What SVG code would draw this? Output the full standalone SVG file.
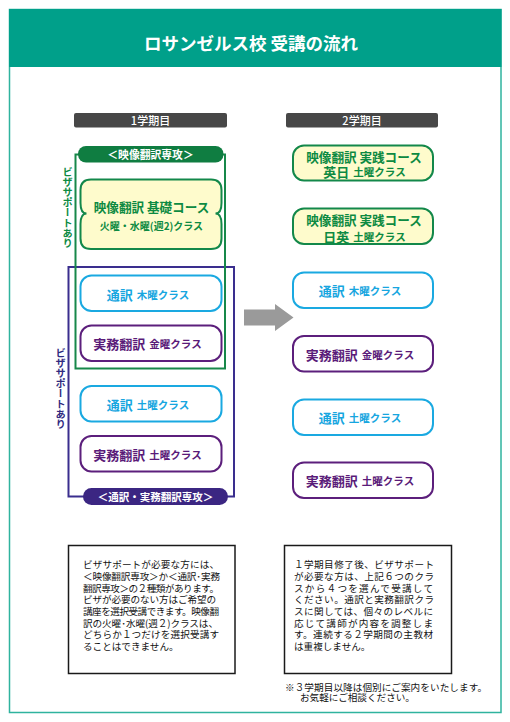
<svg xmlns="http://www.w3.org/2000/svg" width="510" height="722" viewBox="0 0 510 722">
<style>
text{font-family:"Noto Sans CJK JP","Noto Sans",sans-serif;dominant-baseline:central}
.b{font-weight:bold}
.mid{text-anchor:middle}
.grn{fill:#0d8a42}
.cyn{fill:#17a6df}
.pur{fill:#5a1b79}
.wt{fill:#ffffff}
.gnode{fill:#fefbcc;stroke:#13884a;stroke-width:2}
.cnode{fill:#ffffff;stroke:#1aa9e1;stroke-width:2}
.pnode{fill:#ffffff;stroke:#5c1f7c;stroke-width:2}
.big{font-size:13px;font-weight:bold}
.sm{font-size:10.5px;font-weight:bold}
.note{font-size:9.6px;fill:#111}
.lbl{fill:#474747}
.vt{writing-mode:vertical-rl;font-size:10.2px;font-weight:bold;dominant-baseline:central}
</style>

<g id="frame">
  <rect x="9.5" y="9.5" width="491.5" height="703" fill="#ffffff" stroke="#2fb39e" stroke-width="1.5"/>
  <rect x="9" y="9" width="492.5" height="58" fill="#00a08a"/>
  <text x="251" y="42.5" class="mid wt b" style="font-size:17.5px">ロサンゼルス校 受講の流れ</text>
</g>

<g id="term1">
  <rect x="74" y="113" width="153" height="14.5" rx="2" class="lbl"/>
  <text x="150.5" y="120.3" class="mid wt" style="font-size:11px;font-weight:500">1学期目</text>
</g>
<g id="term2">
  <rect x="286" y="113" width="152" height="14.5" rx="2" class="lbl"/>
  <text x="362" y="120.3" class="mid wt" style="font-size:11px;font-weight:500">2学期目</text>
</g>

<g id="group-interp">
  <path d="M85 496.5 H68.5 V267 H234 V496.5 H226" fill="none" stroke="#3a2e8e" stroke-width="2"/>
  <rect x="83" y="488" width="145" height="17" rx="8.5" fill="#3b2682"/>
  <text x="155.5" y="496.8" class="mid wt b" style="font-size:10.5px">＜通訳・実務翻訳専攻＞</text>
  <text x="60.5" y="388.5" class="vt mid" fill="#2f2a80" text-anchor="middle">ビザサポートあり</text>
</g>

<g id="group-film">
  <path d="M79 154.5 H75.5 V368.5 H225 V154.5 H222" fill="none" stroke="#17884a" stroke-width="2"/>
  <rect x="78" y="146" width="145.5" height="16.5" rx="8" fill="#0f7d41"/>
  <text x="150.5" y="154.3" class="mid wt b" style="font-size:10.8px">＜映像翻訳専攻＞</text>
  <text x="67.5" y="207.5" class="vt grn" text-anchor="middle">ビザサポートあり</text>
</g>

<g id="node-kiso">
  <path class="gnode" d="M91 179.5 H211 Q221.5 179.5 221.5 190 V203 Q221.5 213.5 215.5 213.5 Q221.5 213.5 221.5 224 V238.5 Q221.5 249 211 249 H91 Q80.5 249 80.5 238.5 V224 Q80.5 213.5 86.5 213.5 Q80.5 213.5 80.5 203 V190 Q80.5 179.5 91 179.5 Z"/>
  <text x="151.5" y="206" class="mid grn b" style="font-size:12.6px">映像翻訳 基礎コース</text>
  <text x="151.5" y="225.5" class="mid grn b" style="font-size:10px">火曜・水曜(週2)クラス</text>
</g>

<g id="node-l-tsuyaku-thu">
  <rect x="80.5" y="275.5" width="141" height="35.5" rx="11" class="cnode"/>
  <text x="148" y="293.5" class="mid cyn"><tspan class="big">通訳</tspan><tspan class="sm" dx="4">木曜クラス</tspan></text>
</g>
<g id="node-l-jitsumu-fri">
  <rect x="80.5" y="325.5" width="141" height="35.5" rx="11" class="pnode"/>
  <text x="147.5" y="343.3" class="mid pur"><tspan class="big">実務翻訳</tspan><tspan class="sm" dx="4">金曜クラス</tspan></text>
</g>
<g id="node-l-tsuyaku-sat">
  <rect x="80.5" y="386" width="141" height="35.5" rx="11" class="cnode"/>
  <text x="148" y="403.8" class="mid cyn"><tspan class="big">通訳</tspan><tspan class="sm" dx="4">土曜クラス</tspan></text>
</g>
<g id="node-l-jitsumu-sat">
  <rect x="80.5" y="436" width="141" height="35.5" rx="11" class="pnode"/>
  <text x="147.5" y="453.8" class="mid pur"><tspan class="big">実務翻訳</tspan><tspan class="sm" dx="4">土曜クラス</tspan></text>
</g>

<g id="node-jissen-ej">
  <rect x="293" y="145.5" width="140" height="35" rx="11" class="gnode"/>
  <text x="364" y="156.5" class="mid grn b" style="font-size:12.6px">映像翻訳 実践コース</text>
  <text x="364.5" y="171" class="mid grn"><tspan class="big">英日</tspan><tspan class="sm" dx="4">土曜クラス</tspan></text>
</g>
<g id="node-jissen-je">
  <rect x="293" y="208.5" width="140" height="35.5" rx="11" class="gnode"/>
  <text x="364" y="219.5" class="mid grn b" style="font-size:12.6px">映像翻訳 実践コース</text>
  <text x="364.5" y="235.5" class="mid grn"><tspan class="big">日英</tspan><tspan class="sm" dx="4">土曜クラス</tspan></text>
</g>
<g id="node-r-tsuyaku-thu">
  <rect x="293" y="272.5" width="140" height="35.5" rx="11" class="cnode"/>
  <text x="360" y="290.3" class="mid cyn"><tspan class="big">通訳</tspan><tspan class="sm" dx="4">木曜クラス</tspan></text>
</g>
<g id="node-r-jitsumu-fri">
  <rect x="293" y="336" width="140" height="35.5" rx="11" class="pnode"/>
  <text x="360" y="353.8" class="mid pur"><tspan class="big">実務翻訳</tspan><tspan class="sm" dx="4">金曜クラス</tspan></text>
</g>
<g id="node-r-tsuyaku-sat">
  <rect x="293" y="399.5" width="140" height="35.5" rx="11" class="cnode"/>
  <text x="360" y="417.3" class="mid cyn"><tspan class="big">通訳</tspan><tspan class="sm" dx="4">土曜クラス</tspan></text>
</g>
<g id="node-r-jitsumu-sat">
  <rect x="293" y="462.5" width="140" height="35.5" rx="11" class="pnode"/>
  <text x="360" y="480.3" class="mid pur"><tspan class="big">実務翻訳</tspan><tspan class="sm" dx="4">土曜クラス</tspan></text>
</g>

<g id="connectors">
  <polygon points="244,309.5 275,309.5 275,304 293.5,317.5 275,331 275,325.5 244,325.5" fill="#9a9a9a"/>
</g>

<g id="note-left">
  <rect x="68.5" y="545.5" width="166.5" height="128" fill="#ffffff" stroke="#1a1a1a" stroke-width="1.5"/>
  <text class="note" x="83" y="564.3" textLength="136" lengthAdjust="spacing">ビザサポートが必要な方には、</text>
  <text class="note" x="83" y="576" textLength="137" lengthAdjust="spacing">＜映像翻訳専攻＞か＜通訳･実務</text>
  <text class="note" x="83" y="587.6" textLength="136" lengthAdjust="spacing">翻訳専攻＞の２種類があります。</text>
  <text class="note" x="83" y="599.3" textLength="133" lengthAdjust="spacing">ビザが必要のない方はご希望の</text>
  <text class="note" x="83" y="611" textLength="136" lengthAdjust="spacing">講座を選択受講できます。映像翻</text>
  <text class="note" x="83" y="622.6" textLength="135" lengthAdjust="spacing">訳の火曜･水曜(週２)クラスは、</text>
  <text class="note" x="83" y="634.3" textLength="136" lengthAdjust="spacing">どちらか１つだけを選択受講す</text>
  <text class="note" x="83" y="646">ることはできません。</text>
</g>

<g id="note-right">
  <rect x="284.5" y="545.5" width="167" height="128" fill="#ffffff" stroke="#1a1a1a" stroke-width="1.5"/>
  <text class="note" x="294" y="564.3" textLength="140" lengthAdjust="spacing">１学期目修了後、ビザサポート</text>
  <text class="note" x="294" y="576" textLength="140" lengthAdjust="spacing">が必要な方は、上記６つのクラ</text>
  <text class="note" x="294" y="587.6" textLength="139" lengthAdjust="spacing">スから４つを選んで受講して</text>
  <text class="note" x="294" y="599.3" textLength="140" lengthAdjust="spacing">ください。通訳と実務翻訳クラ</text>
  <text class="note" x="294" y="611" textLength="139" lengthAdjust="spacing">スに関しては、個々のレベルに</text>
  <text class="note" x="294" y="622.6" textLength="139" lengthAdjust="spacing">応じて講師が内容を調整しま</text>
  <text class="note" x="294" y="634.3" textLength="139" lengthAdjust="spacing">す。連続する２学期間の主教材</text>
  <text class="note" x="294" y="646">は重複しません。</text>
  <text class="note" x="285" y="686.7" textLength="202" lengthAdjust="spacing">※３学期目以降は個別にご案内をいたします。</text>
  <text class="note" x="300" y="697">お気軽にご相談ください。</text>
</g>
</svg>
